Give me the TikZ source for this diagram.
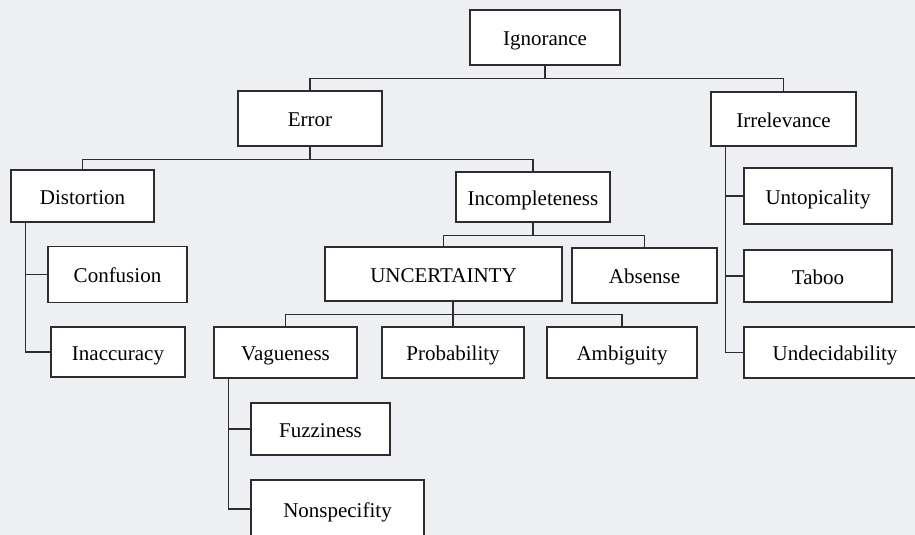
\documentclass[tikz,border=0pt]{standalone}
\usepackage{fontspec}
\setmainfont{Liberation Serif}
\definecolor{paper}{RGB}{238,239,243}
\definecolor{ink}{RGB}{45,45,45}

\begin{document}
\begin{tikzpicture}
  [x=1pt,y=-1pt,line width=1.3pt,ink,
   every node/.style={rectangle, draw=ink, fill=white, inner sep=0pt, text=black,
     text height=20pt, text depth=4pt, font=\fontsize{21}{23}\selectfont},
   bx/.style 2 args={minimum width=#1pt, minimum height=#2pt}]
  \useasboundingbox (0,0) rectangle (915,535);
  \clip (0,0) rectangle (915,535);
  \fill[paper] (0,0) rectangle (915,535);

  \node[bx={150}{55}] (ign) at (545,37.5)  {Ignorance};
  \node[bx={144}{55}] (err) at (310,118.5) {Error};
  \node[bx={145}{54}] (irr) at (783.5,119) {Irrelevance};
  \node[bx={143}{52}] (dis) at (82.5,196)  {Distortion};
  \node[bx={139}{56}] (con) at (117.5,274.5) {Confusion};
  \node[bx={134}{50}] (ina) at (118,352)   {Inaccuracy};
  \node[bx={154}{50}] (inc) at (533,197)   {Incompleteness};
  \node[bx={237}{54}] (unc) at (443.5,274) {UNCERTAINTY};
  \node[bx={145}{55}] (abs) at (644.5,275.5) {Absense};
  \node[bx={143}{51}] (vag) at (285.5,352.5) {Vagueness};
  \node[bx={142}{51}] (pro) at (453,352.5) {Probability};
  \node[bx={150}{51}] (amb) at (622,352.5) {Ambiguity};
  \node[bx={148}{56}] (unt) at (818,196)   {Untopicality};
  \node[bx={148}{52}] (tab) at (818,276)   {Taboo};
  \node[bx={182}{51}] (und) at (835,352.5) {Undecidability};
  \node[bx={139}{52}] (fuz) at (320.5,429) {Fuzziness};
  \node[bx={173}{58}] (non) at (337.5,509) {Nonspecifity};
  \coordinate (ub) at (unc.south -| pro.north);

  \foreach \from/\to in {ign.south/err,ign.south/irr,err.south/dis,err.south/inc,
      inc.south/unc,inc.south/abs,ub/vag,ub/pro,ub/amb}
    \draw (\from) -- ++(0,13) -| (\to.north);

  \foreach \from/\to in {dis/con,dis/ina,irr/unt,irr/tab,irr/und,vag/fuz,vag/non}
    \draw ([xshift=15pt]\from.south west) |- (\to.west);

\end{tikzpicture}
\end{document}
